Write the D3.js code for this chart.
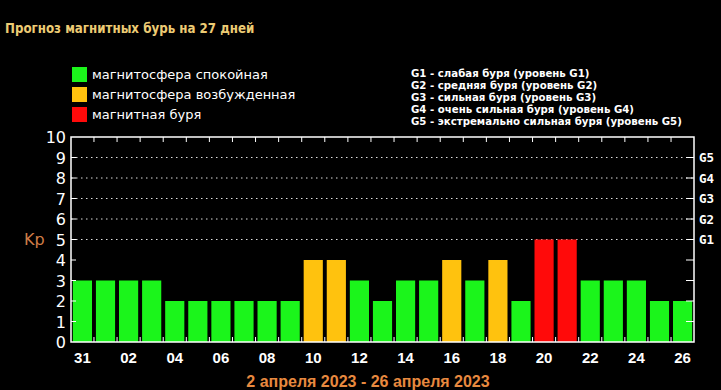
<!DOCTYPE html>
<html>
<head>
<meta charset="utf-8">
<script src="https://cdn.jsdelivr.net/npm/d3@7"></script>
<style>
  html, body { margin: 0; padding: 0; background: #000; }
  svg { display: block; }
</style>
</head>
<body>
<div id="chart"></div>
<script>
// прогноз Kp на 27 дней
const days = ["31","01","02","03","04","05","06","07","08","09","10","11","12","13",
              "14","15","16","17","18","19","20","21","22","23","24","25","26"];
const kp = [3,3,3,3,2,2,2,2,2,2,4,4,3,2,3,3,4,3,4,2,5,5,3,3,3,2,2];
const yTicks = [0,1,2,3,4,5,6,7,8,9,10];
const gLevels = ["G1","G2","G3","G4","G5"];   // Kp 5..9
const legendItems = ["магнитосфера спокойная", "магнитосфера возбужденная", "магнитная буря"];
const gLegend = [
    "G1 - слабая буря (уровень G1)",
    "G2 - средняя буря (уровень G2)",
    "G3 - сильная буря (уровень G3)",
    "G4 - очень сильная буря (уровень G4)",
    "G5 - экстремально сильная буря (уровень G5)"
];
const period = "2 апреля 2023 - 26 апреля 2023";

const GREEN = "#1bf51b";
const ORANGE = "#ffc20e";
const RED = "#ff0a0a";
const colorOf = v => v >= 5 ? RED : (v >= 4 ? ORANGE : GREEN);

const W = 721, H = 390;
const plotL = 71, plotR = 694, plotT = 137, plotB = 342;

const svg = d3.select("#chart").append("svg")
    .attr("width", W)
    .attr("height", H);

// title
svg.append("text")
    .attr("x", 5).attr("y", 33)
    .attr("fill", "#eccb74")
    .attr("font-family", "DejaVu Sans Condensed, DejaVu Sans, sans-serif")
    .attr("font-weight", "bold")
    .attr("font-size", 13.2)
    .text("Прогноз магнитных бурь на 27 дней");

// legend (colours)
const leg = svg.append("g");
leg.selectAll("rect")
    .data(legendItems)
    .enter().append("rect")
    .attr("x", 72)
    .attr("y", (d, i) => 67 + i * 20)
    .attr("width", 15).attr("height", 15)
    .attr("fill", (d, i) => [GREEN, ORANGE, RED][i]);
leg.selectAll("text")
    .data(legendItems)
    .enter().append("text")
    .attr("x", 92)
    .attr("y", (d, i) => 79 + i * 20)
    .attr("fill", "#fff")
    .attr("font-family", "DejaVu Sans, sans-serif")
    .attr("font-size", 13)
    .text(d => d);

// legend (G levels)
svg.append("g").selectAll("text")
    .data(gLegend)
    .enter().append("text")
    .attr("x", 411)
    .attr("y", (d, i) => 76.5 + i * 12.2)
    .attr("fill", "#fff")
    .attr("font-family", "DejaVu Sans, sans-serif")
    .attr("font-weight", "bold")
    .attr("font-size", 10.2)
    .text(d => d);

const x = d3.scaleBand()
    .domain(d3.range(days.length))
    .range([plotL, plotR])
    .paddingInner(0.17)
    .paddingOuter(0.08);

const y = d3.scaleLinear()
    .domain([0, 10])
    .range([plotB, plotT]);

// dotted grid for G levels
svg.append("g").selectAll("line")
    .data(d3.range(5, 10))
    .enter().append("line")
    .attr("x1", plotL).attr("x2", plotR)
    .attr("y1", d => y(d)).attr("y2", d => y(d))
    .attr("stroke", "#ddd")
    .attr("stroke-width", 1)
    .attr("stroke-dasharray", "1.5,3.5");

// bars
svg.append("g").selectAll("rect")
    .data(kp)
    .enter().append("rect")
    .attr("x", (d, i) => x(i))
    .attr("y", d => y(d))
    .attr("width", x.bandwidth())
    .attr("height", d => plotB - y(d))
    .attr("fill", d => colorOf(d));

// frame
svg.append("rect")
    .attr("x", plotL).attr("y", plotT)
    .attr("width", plotR - plotL).attr("height", plotB - plotT)
    .attr("fill", "none")
    .attr("stroke", "#fff")
    .attr("stroke-width", 1.5);

// ticks between days (top and bottom)
const gapX = d3.range(1, days.length).map(i => x(i) - x.step() * x.paddingInner() / 2);
const tk = svg.append("g").attr("stroke", "#fff").attr("stroke-width", 1);
gapX.forEach(g => {
    tk.append("line").attr("x1", g).attr("x2", g).attr("y1", plotT).attr("y2", plotT + 5);
    tk.append("line").attr("x1", g).attr("x2", g).attr("y1", plotB).attr("y2", plotB - 5);
});
// y ticks, left and right
yTicks.slice(1, 10).forEach(v => {
    tk.append("line").attr("x1", plotL).attr("x2", plotL + 5).attr("y1", y(v)).attr("y2", y(v));
    tk.append("line").attr("x1", plotR - 8).attr("x2", plotR).attr("y1", y(v)).attr("y2", y(v));
});

// y labels
svg.append("g").selectAll("text")
    .data(yTicks)
    .enter().append("text")
    .attr("x", 66)
    .attr("y", d => y(d) + 6)
    .attr("text-anchor", "end")
    .attr("fill", "#fff")
    .attr("font-family", "DejaVu Sans, sans-serif")
    .attr("font-size", 16)
    .text(d => d);

svg.append("text")
    .attr("x", 24).attr("y", 245)
    .attr("fill", "#cf7d48")
    .attr("font-family", "DejaVu Sans, sans-serif")
    .attr("font-size", 16)
    .text("Kp");

// G labels right
svg.append("g").selectAll("text")
    .data(gLevels)
    .enter().append("text")
    .attr("x", 699)
    .attr("y", (d, i) => y(i + 5) + 4.5)
    .attr("fill", "#fff")
    .attr("font-family", "DejaVu Sans Mono, monospace")
    .attr("font-weight", "bold")
    .attr("font-size", 12.5)
    .text(d => d);

// x labels, every other day
svg.append("g").selectAll("text")
    .data(days.map((d, i) => [d, i]).filter(p => p[1] % 2 === 0))
    .enter().append("text")
    .attr("x", p => x(p[1]) + x.bandwidth() / 2)
    .attr("y", 363)
    .attr("text-anchor", "middle")
    .attr("fill", "#fff")
    .attr("font-family", "Liberation Sans Narrow, Arial Narrow, sans-serif")
    .attr("font-weight", "bold")
    .attr("font-size", 15)
    .text(p => p[0]);

svg.append("text")
    .attr("x", 368).attr("y", 387)
    .attr("text-anchor", "middle")
    .attr("fill", "#e8893f")
    .attr("font-family", "Liberation Sans Narrow, Arial Narrow, sans-serif")
    .attr("font-weight", "bold")
    .attr("font-size", 16)
    .text(period);
</script>
</body>
</html>
